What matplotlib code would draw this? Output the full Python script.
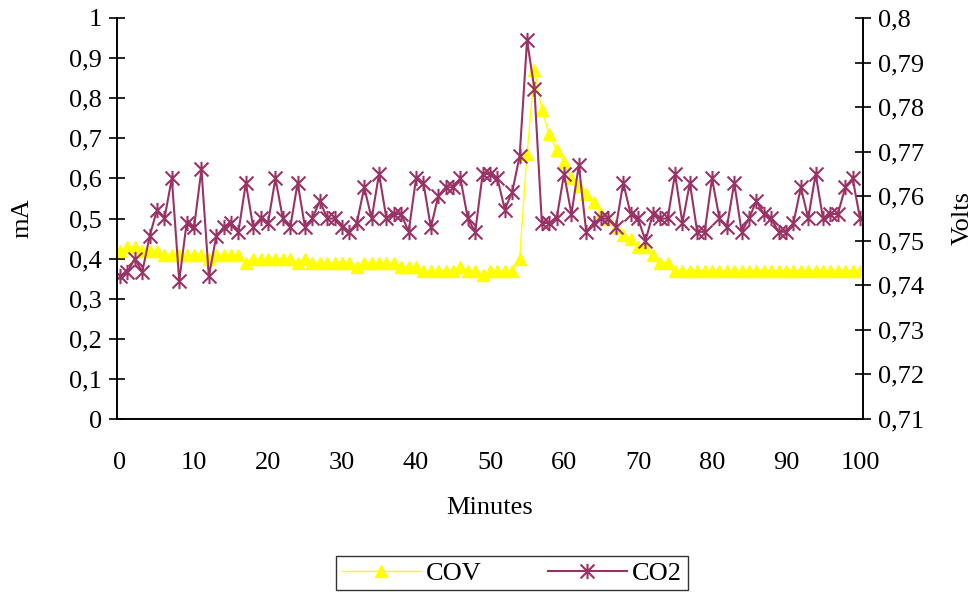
import matplotlib
matplotlib.use("Agg")
import matplotlib.pyplot as plt
from matplotlib.path import Path
import numpy as np

plt.rcParams['font.family'] = ['Liberation Serif', 'DejaVu Serif']

minutes = list(range(0, 101))

cov_ma = [0.42, 0.43, 0.43, 0.42, 0.42, 0.42, 0.41, 0.41, 0.41, 0.41,
          0.41, 0.41, 0.40, 0.41, 0.41, 0.41, 0.41, 0.39, 0.40, 0.40,
          0.40, 0.40, 0.40, 0.40, 0.39, 0.40, 0.39, 0.39, 0.39, 0.39,
          0.39, 0.39, 0.38, 0.39, 0.39, 0.39, 0.39, 0.39, 0.38, 0.38,
          0.38, 0.37, 0.37, 0.37, 0.37, 0.37, 0.38, 0.37, 0.37, 0.36,
          0.37, 0.37, 0.37, 0.37, 0.40, 0.66, 0.87, 0.77, 0.71, 0.67,
          0.64, 0.60, 0.58, 0.56, 0.54, 0.51, 0.50, 0.48, 0.46, 0.45,
          0.43, 0.43, 0.41, 0.39, 0.39, 0.37, 0.37, 0.37, 0.37, 0.37,
          0.37, 0.37, 0.37, 0.37, 0.37, 0.37, 0.37, 0.37, 0.37, 0.37,
          0.37, 0.37, 0.37, 0.37, 0.37, 0.37, 0.37, 0.37, 0.37, 0.37,
          0.37]

co2_volts = [0.742, 0.743, 0.746, 0.743, 0.751, 0.757, 0.755, 0.764, 0.741, 0.754,
             0.753, 0.766, 0.742, 0.751, 0.753, 0.754, 0.752, 0.763, 0.753, 0.755,
             0.754, 0.764, 0.755, 0.753, 0.763, 0.753, 0.755, 0.759, 0.755, 0.755,
             0.753, 0.752, 0.754, 0.762, 0.755, 0.765, 0.755, 0.756, 0.756, 0.752,
             0.764, 0.763, 0.753, 0.760, 0.762, 0.762, 0.764, 0.755, 0.752, 0.765,
             0.765, 0.764, 0.757, 0.761, 0.769, 0.795, 0.784, 0.754, 0.754, 0.755,
             0.765, 0.756, 0.767, 0.752, 0.754, 0.755, 0.755, 0.753, 0.763, 0.756,
             0.755, 0.750, 0.756, 0.755, 0.755, 0.765, 0.754, 0.763, 0.752, 0.752,
             0.764, 0.755, 0.753, 0.763, 0.752, 0.755, 0.759, 0.756, 0.755, 0.752,
             0.752, 0.754, 0.762, 0.755, 0.765, 0.755, 0.756, 0.756, 0.762, 0.764,
             0.755]

left_ticks = [0, 0.1, 0.2, 0.3, 0.4, 0.5, 0.6, 0.7, 0.8, 0.9, 1.0]
right_ticks = [0.71, 0.72, 0.73, 0.74, 0.75, 0.76, 0.77, 0.78, 0.79, 0.80]
x_ticks = [0, 10, 20, 30, 40, 50, 60, 70, 80, 90, 100]

def comma(v, nd):
    s = ('%.*f' % (nd, v)).rstrip('0').rstrip('.') if nd else str(int(v))
    return s.replace('.', ',')

COV_COLOR = '#FFFF00'
CO2_COLOR = '#993366'

asterisk = Path([(-1, -1), (1, 1), (-1, 1), (1, -1), (0, -1.1), (0, 1.1)],
                [Path.MOVETO, Path.LINETO, Path.MOVETO, Path.LINETO, Path.MOVETO, Path.LINETO])

fig = plt.figure(figsize=(9.77, 5.92), dpi=100)
W, H = 977, 592
ax = fig.add_axes([116.7 / W, 1 - 419 / H, (863 - 116.7) / W, (419 - 18) / H])
ax2 = ax.twinx()

l1, = ax.plot(minutes, cov_ma, color=COV_COLOR, lw=1.0, marker='^', ms=9,
              markerfacecolor=COV_COLOR, markeredgecolor=COV_COLOR, zorder=2)
l2, = ax2.plot(minutes, co2_volts, color=CO2_COLOR, lw=1.5, marker=asterisk, ms=11,
               markerfacecolor='none', markeredgecolor=CO2_COLOR, markeredgewidth=1.5)

ax.set_xlim(-0.45, 100.4)
ax.set_ylim(0, 1)
ax2.set_ylim(0.71, 0.80)

ax.set_xticks(x_ticks)
ax.set_xticklabels([str(t) for t in x_ticks])
ax.set_yticks(left_ticks)
ax.set_yticklabels([comma(t, 1) for t in left_ticks])
ax2.set_yticks(right_ticks)
ax2.set_yticklabels([comma(t, 2) for t in right_ticks])

fs = 19
for a in (ax, ax2):
    a.tick_params(axis='both', labelsize=fs, direction='inout', length=11, width=1.2, color='black')
    for s in a.spines.values():
        s.set_linewidth(1.2)
ax.tick_params(axis='x', direction='inout', length=0, pad=24)
ax.tick_params(axis='y', pad=5)
ax2.tick_params(axis='y', pad=5)
ax.spines['top'].set_visible(False)
ax2.spines['top'].set_visible(False)

ax.set_ylabel('mA', fontsize=fs, labelpad=26)
ax2.set_ylabel('Volts', fontsize=fs, labelpad=20)
ax.set_xlabel('Minutes', fontsize=fs, labelpad=16)

leg = fig.legend([l1, l2], ['COV', 'CO2'], loc='center', bbox_to_anchor=(512 / W, 1 - 573 / H),
                 ncol=2, fontsize=fs, frameon=True, fancybox=False, edgecolor='black',
                 handlelength=3.0, columnspacing=2.5, borderpad=0.2, handletextpad=0.2)
leg.get_frame().set_linewidth(1.0)

fig.savefig('out.png', dpi=100)
